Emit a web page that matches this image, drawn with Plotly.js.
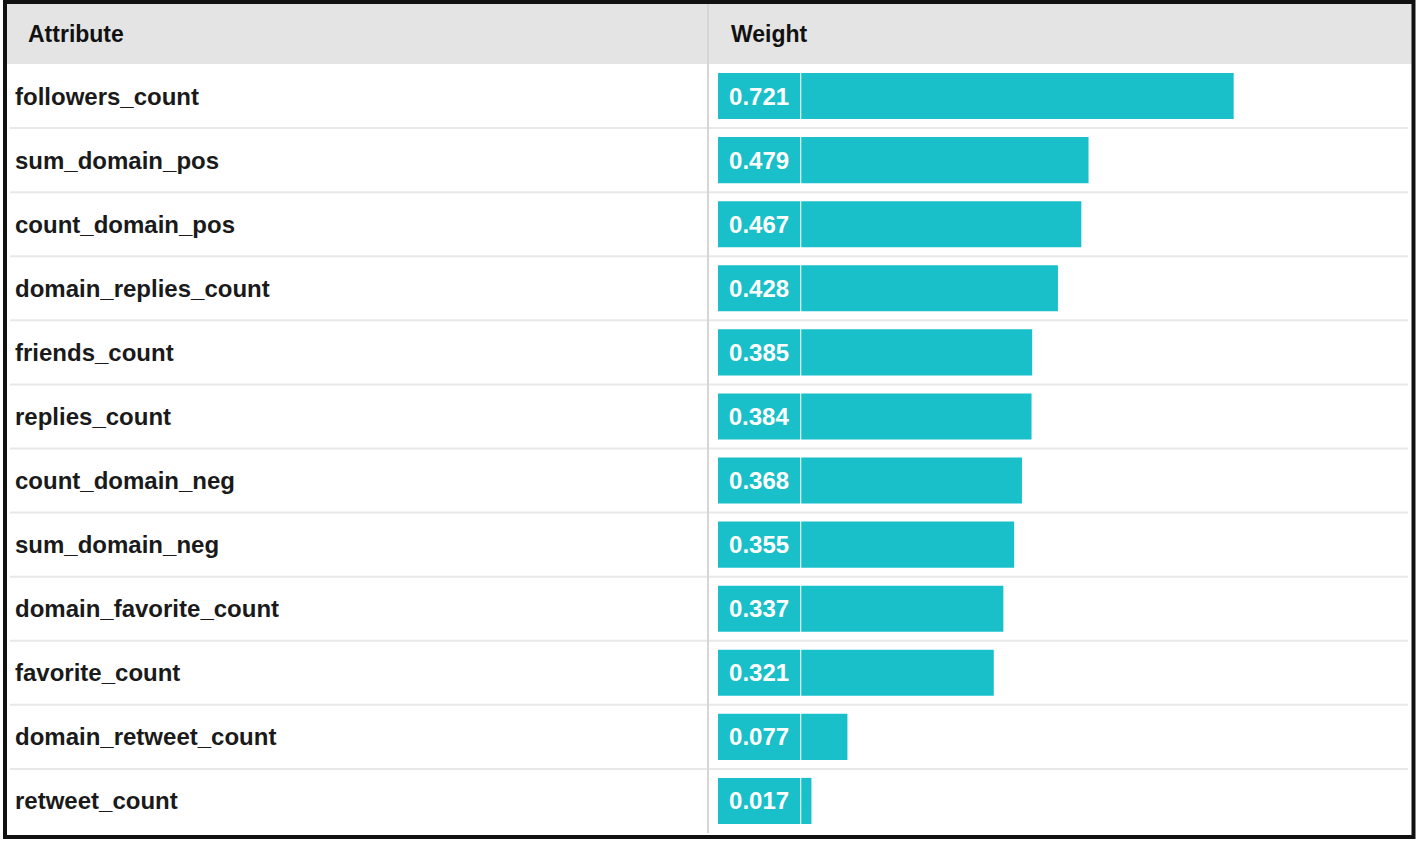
<!DOCTYPE html>
<html>
<head>
<meta charset="utf-8">
<script src="https://cdn.plot.ly/plotly-3.0.1.min.js"></script>
<style>
  html, body { margin: 0; padding: 0; background: #fff; }
  #chart { width: 1418px; height: 843px; }
</style>
</head>
<body>
<div id="chart"></div>
<script>
// attribute weights, top to bottom
const attributes = [
  "followers_count", "sum_domain_pos", "count_domain_pos", "domain_replies_count",
  "friends_count", "replies_count", "count_domain_neg", "sum_domain_neg",
  "domain_favorite_count", "favorite_count", "domain_retweet_count", "retweet_count"
];
const weights = [0.721, 0.479, 0.467, 0.428, 0.385, 0.384, 0.368, 0.355, 0.337, 0.321, 0.077, 0.017];
const headers = ["Attribute", "Weight"];

const W = 1418, H = 843;
const px = (x) => x / W;          // pixel -> paper x
const py = (y) => 1 - y / H;      // pixel -> paper y (from top)

const teal = "#19c0c9";
const fontFam = "Liberation Sans, Arial, sans-serif";
const boxW = 0.137;   // width of the value label box (axis units)
const x0 = -0.1388;   // left edge of the weight column bars

const traces = [
  {
    // value label box
    type: "bar", orientation: "h",
    y: attributes, x: weights.map(() => boxW), base: x0,
    text: weights.map((w) => w.toFixed(3)),
    textposition: "inside", insidetextanchor: "middle",
    textfont: { family: fontFam, size: 24, color: "#ffffff", weight: "bold" },
    constraintext: "none",
    marker: { color: teal },
    hoverinfo: "skip",
  },
  {
    // actual weight bar
    type: "bar", orientation: "h",
    y: attributes, x: weights, base: 0,
    marker: { color: teal },
    textposition: "none",
  },
];

const shapes = [
  // header background
  { type: "rect", xref: "paper", yref: "paper", x0: px(5), x1: px(1412), y0: py(64), y1: py(3),
    fillcolor: "#e4e4e4", line: { width: 0 }, layer: "below" },
  // column divider
  { type: "line", xref: "paper", yref: "paper", x0: px(708), x1: px(708), y0: py(833), y1: py(3),
    line: { color: "#d6d6d6", width: 2 } },
];
// row separators
attributes.slice(0, -1).forEach((_, i) => {
  shapes.push({ type: "line", xref: "paper", yref: "y", x0: px(10), x1: px(1408), y0: i + 0.5, y1: i + 0.5,
    line: { color: "#e8e8e8", width: 2 }, layer: "below" });
});
// outer border
shapes.push({ type: "rect", xref: "paper", yref: "paper", x0: px(5), x1: px(1413.5), y0: py(837), y1: py(2),
  line: { color: "#111", width: 4 }, fillcolor: "rgba(0,0,0,0)" });

const annotations = [
  { text: headers[0], x: px(26), y: py(34) },
  { text: headers[1], x: px(729), y: py(34) },
].map((a) => ({ ...a, xref: "paper", yref: "paper", xanchor: "left", yanchor: "middle", showarrow: false,
  font: { family: fontFam, size: 23, color: "#111", weight: "bold" } }));

attributes.forEach((name) => {
  annotations.push({ text: name, xref: "paper", yref: "y", x: px(13), y: name,
    xanchor: "left", yanchor: "middle", showarrow: false,
    font: { family: fontFam, size: 24, color: "#1a1a1a", weight: "bold" } });
});

Plotly.newPlot("chart", traces, {
  width: W, height: H,
  margin: { l: 0, r: 0, t: 0, b: 0 },
  paper_bgcolor: "#fff", plot_bgcolor: "rgba(0,0,0,0)",
  showlegend: false,
  barmode: "overlay", bargap: 0.28,
  xaxis: { domain: [px(718), px(1408)], range: [x0, (1408 - 801) / 600],
    showgrid: false, zeroline: false, showticklabels: false, fixedrange: true },
  yaxis: { domain: [py(833), py(64)], type: "category", autorange: "reversed",
    showgrid: false, zeroline: false, showticklabels: false, fixedrange: true },
  shapes, annotations,
}, { staticPlot: true });
</script>
</body>
</html>
